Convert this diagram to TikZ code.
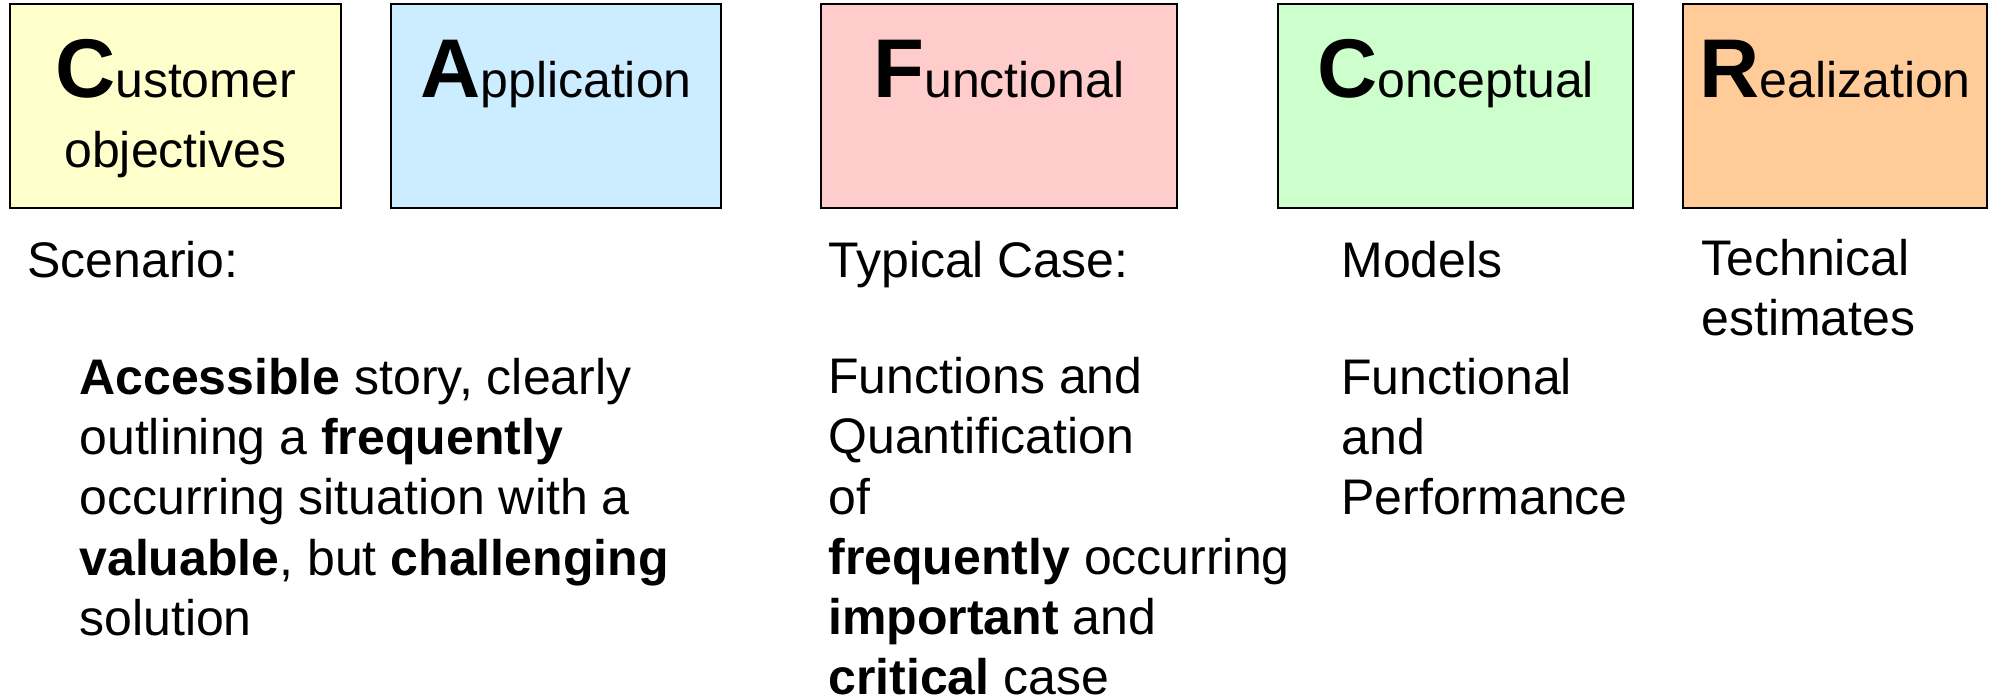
\documentclass[tikz,border=0pt]{standalone}
\usepackage{fontspec}
\setmainfont{Liberation Sans}
\usetikzlibrary{positioning}

\definecolor{custyellow}{HTML}{FFFFCC}
\definecolor{applblue}{HTML}{CCECFF}
\definecolor{funcpink}{HTML}{FFCCCC}
\definecolor{concgreen}{HTML}{CCFFCC}
\definecolor{realorange}{HTML}{FFCC99}

\newcommand{\initial}[1]{{\fontsize{40pt}{40pt}\selectfont\bfseries #1}}

\begin{document}
\begin{tikzpicture}[x=0.48pt, y=-0.48pt,
    stage/.style={draw, line width=1.2pt, minimum height=97.92pt, inner sep=0pt, outer sep=0pt},
    stagetitle/.style={anchor=base, inner sep=0pt, font=\fontsize{24pt}{28.8pt}\selectfont},
    descr/.style={anchor=base west, align=left, inner sep=0pt, font=\fontsize{24pt}{28.8pt}\selectfont},
    node distance=24pt]

    % Canvas
    \useasboundingbox (0,0) rectangle (1990,699);

    % Stage boxes
    \node[stage, fill=custyellow, minimum width=158.88pt] (cust) at (175.5,106) {};
    \node[stage, fill=applblue, minimum width=158.4pt, right=of cust] (appl) {};
    \node[stage, fill=funcpink, minimum width=170.88pt, right=48pt of appl] (func) {};
    \node[stage, fill=concgreen, minimum width=170.4pt, right=48.5pt of func] (conc) {};
    \node[stage, fill=realorange, minimum width=145.92pt, right=of conc] (real) {};

    % Box titles
    \node[stagetitle] (cust title) at ([yshift=-45pt]cust.north) {\initial{C}ustomer};
    \node[stagetitle] (cust sub) at ([yshift=-78.5pt]cust.north) {objectives};
    \node[stagetitle] (appl title) at ([yshift=-45pt]appl.north) {\initial{A}pplication};
    \node[stagetitle] (func title) at ([yshift=-45pt]func.north) {\initial{F}unctional};
    \node[stagetitle] (conc title) at ([yshift=-45pt]conc.north) {\initial{C}onceptual};
    \node[stagetitle] (real title) at ([yshift=-45pt]real.north) {\initial{R}ealization};

    % Descriptions (anchored on the baseline of their last line)
    \node[descr] (cust case) at (27,278) {Scenario:};
    \node[descr] (cust story) at (79,635) {\textbf{Accessible} story, clearly\\outlining a \textbf{frequently}\\occurring situation with a\\\textbf{valuable}, but \textbf{challenging}\\solution};
    \node[descr] (func case) at (828,278) {Typical Case:};
    \node[descr] (func text) at (828,694) {Functions and\\Quantification\\of\\\textbf{frequently} occurring\\\textbf{important} and\\\textbf{critical} case};
    \node[descr] (conc case) at (1341,278) {Models};
    \node[descr] (conc text) at (1341,515) {Functional\\and\\Performance};
    \node[descr] (real case) at (1701,336) {Technical\\estimates};

\end{tikzpicture}
\end{document}
